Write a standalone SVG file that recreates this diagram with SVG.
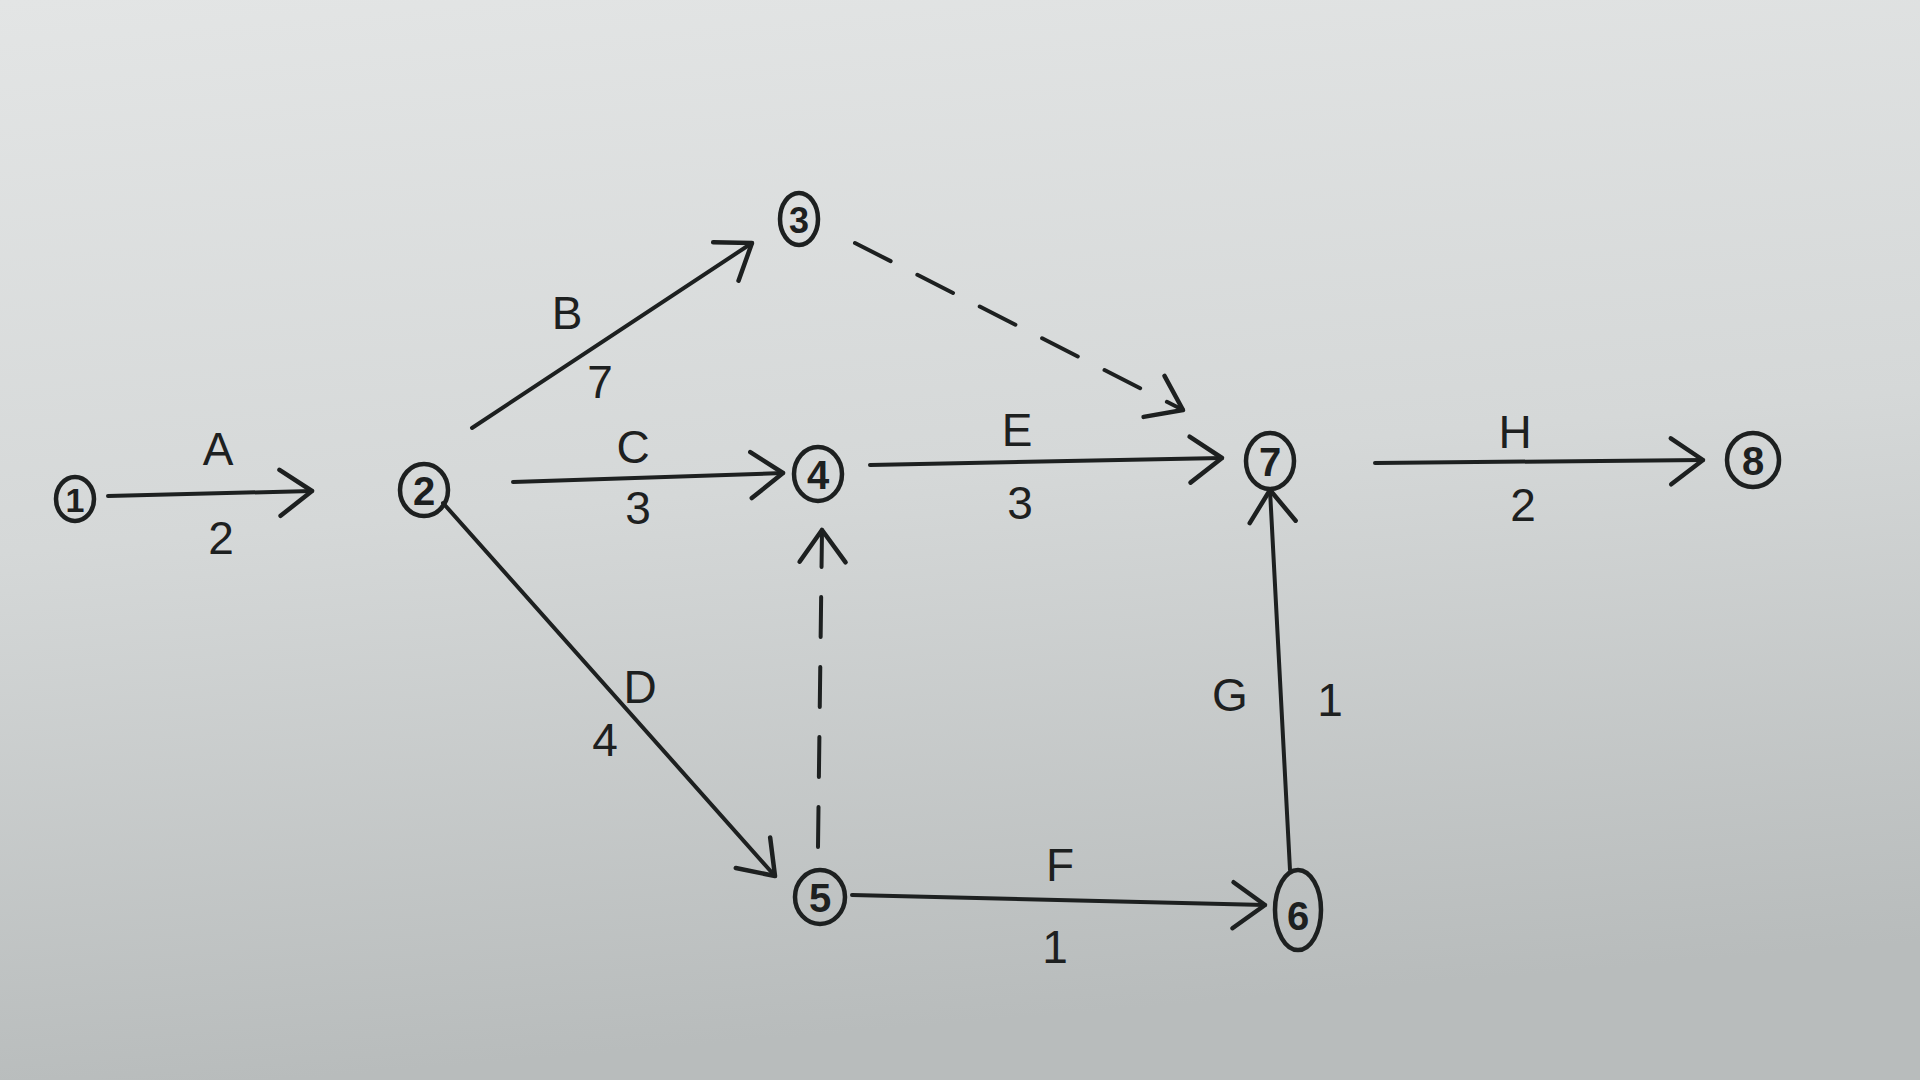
<svg xmlns="http://www.w3.org/2000/svg" width="1920" height="1080" viewBox="0 0 1920 1080">
<defs>
<linearGradient id="paper" x1="0" y1="0" x2="0.15" y2="1">
<stop offset="0" stop-color="#e3e5e5"/>
<stop offset="0.5" stop-color="#d5d8d8"/>
<stop offset="1" stop-color="#b8bcbc"/>
</linearGradient>
<marker id="arr" viewBox="-40 -30 46 60" markerWidth="46" markerHeight="60" refX="0" refY="0" orient="auto" markerUnits="userSpaceOnUse">
<path d="M -32,-22 L 0,0 L -32,24" fill="none" stroke="#1d2020" stroke-width="4.5" stroke-linecap="round" stroke-linejoin="round"/>
</marker>
<style>
.edge{fill:none;stroke:#1d2020;stroke-width:4;stroke-linecap:round;marker-end:url(#arr)}
.dash{stroke-dasharray:40 30}
.node{fill:none;stroke:#1d2020;stroke-width:4.5}
.num{font-family:"Liberation Sans","DejaVu Sans",sans-serif;font-size:40px;font-weight:bold;fill:#1d2020;text-anchor:middle;dominant-baseline:central}
.lbl{font-family:"Liberation Sans","DejaVu Sans",sans-serif;font-size:46px;fill:#1d2020;text-anchor:middle;dominant-baseline:central}
</style>
</defs>
<rect x="0" y="0" width="1920" height="1080" fill="url(#paper)"/>
<g id="connectors">
<g id="edge-A"><line class="edge" x1="108" y1="496" x2="312" y2="491"/><text class="lbl" x="218" y="449">A</text><text class="lbl" x="221" y="538">2</text></g>
<g id="edge-B"><line class="edge" x1="472" y1="428" x2="752" y2="243"/><text class="lbl" x="567" y="313">B</text><text class="lbl" x="600" y="382">7</text></g>
<g id="edge-C"><line class="edge" x1="513" y1="482" x2="783" y2="473"/><text class="lbl" x="633" y="447">C</text><text class="lbl" x="638" y="508">3</text></g>
<g id="edge-D"><line class="edge" x1="443" y1="503" x2="775" y2="876"/><text class="lbl" x="640" y="687">D</text><text class="lbl" x="605" y="740">4</text></g>
<g id="edge-3-7"><line class="edge dash" x1="855" y1="243" x2="1183" y2="410"/></g>
<g id="edge-E"><line class="edge" x1="870" y1="465" x2="1222" y2="458"/><text class="lbl" x="1017" y="430">E</text><text class="lbl" x="1020" y="503">3</text></g>
<g id="edge-5-4"><line class="edge dash" x1="818" y1="847" x2="822" y2="530"/></g>
<g id="edge-F"><line class="edge" x1="852" y1="895" x2="1265" y2="905"/><text class="lbl" x="1060" y="865">F</text><text class="lbl" x="1055" y="947">1</text></g>
<g id="edge-G"><line class="edge" x1="1290" y1="870" x2="1270" y2="490"/><text class="lbl" x="1230" y="695">G</text><text class="lbl" x="1330" y="700">1</text></g>
<g id="edge-H"><line class="edge" x1="1375" y1="463" x2="1703" y2="460"/><text class="lbl" x="1515" y="432">H</text><text class="lbl" x="1523" y="505">2</text></g>
</g>
<g id="n1"><ellipse class="node" cx="75" cy="499" rx="19" ry="22"/><text class="num" x="75" y="500" style="font-size:34px">1</text></g>
<g id="n2"><ellipse class="node" cx="424" cy="490" rx="24" ry="26"/><text class="num" x="424" y="491">2</text></g>
<g id="n3"><ellipse class="node" cx="799" cy="219" rx="19" ry="26"/><text class="num" x="799" y="220" style="font-size:36px">3</text></g>
<g id="n4"><ellipse class="node" cx="818" cy="474" rx="24" ry="27"/><text class="num" x="818" y="475">4</text></g>
<g id="n5"><ellipse class="node" cx="820" cy="897" rx="25" ry="27"/><text class="num" x="820" y="898">5</text></g>
<g id="n6"><ellipse class="node" cx="1298" cy="910" rx="23" ry="40"/><text class="num" x="1298" y="916">6</text></g>
<g id="n7"><ellipse class="node" cx="1270" cy="461" rx="24" ry="28"/><text class="num" x="1270" y="462">7</text></g>
<g id="n8"><ellipse class="node" cx="1753" cy="460" rx="26" ry="27"/><text class="num" x="1753" y="461">8</text></g>
</svg>
